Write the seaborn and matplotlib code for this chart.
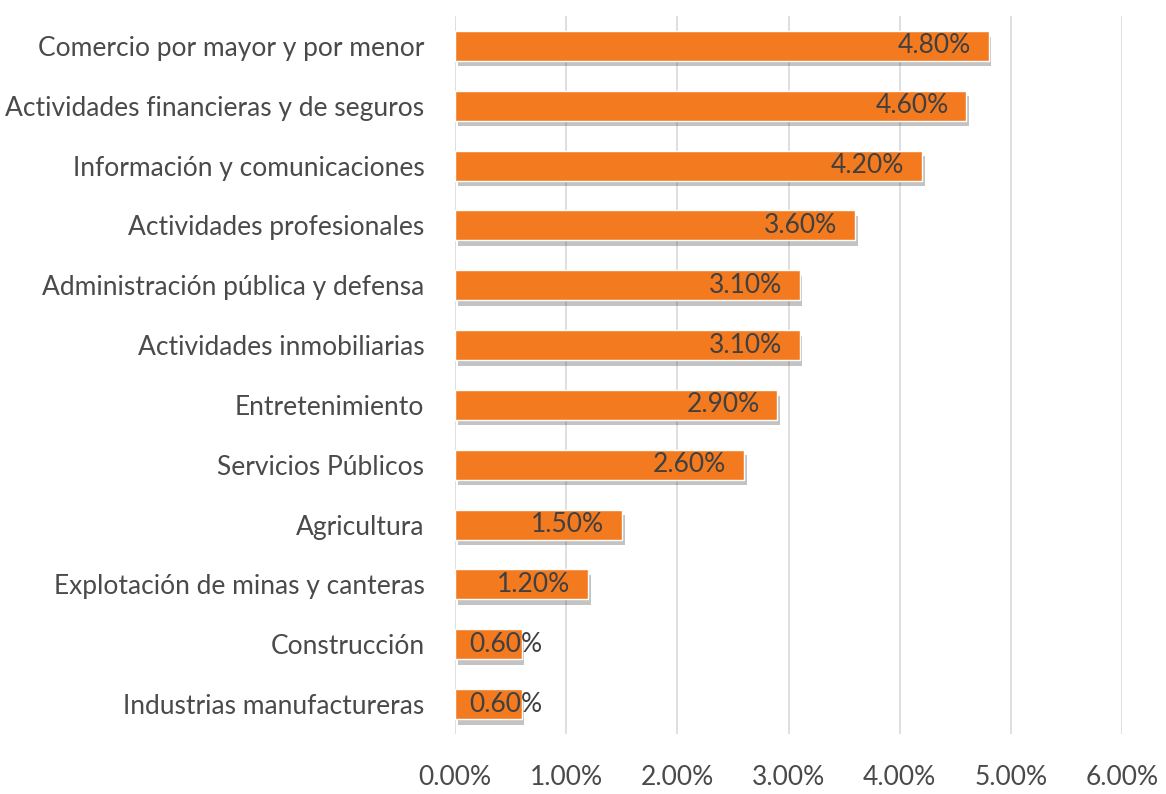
"""Horizontal bar chart of growth by economic sector."""

import numpy as np
import pandas as pd
import seaborn as sns
import matplotlib.pyplot as plt
import matplotlib.patheffects as pe
from matplotlib.ticker import FuncFormatter

###################################################################################################
###################################################################################################

sectors = ['Comercio por mayor y por menor', 'Actividades financieras y de seguros',
           'Información y comunicaciones', 'Actividades profesionales',
           'Administración pública y defensa', 'Actividades inmobiliarias',
           'Entretenimiento', 'Servicios Públicos', 'Agricultura',
           'Explotación de minas y canteras', 'Construcción', 'Industrias manufactureras']
growth = [4.8, 4.6, 4.2, 3.6, 3.1, 3.1, 2.9, 2.6, 1.5, 1.2, 0.6, 0.6]
x_ticks = [0, 1, 2, 3, 4, 5, 6]

df = pd.DataFrame({'sector': sectors, 'growth': growth})

sns.set_style('white')
plt.rcParams['font.family'] = ['Lato', 'DejaVu Sans']

fig = plt.figure(figsize=[11.66, 7.94], dpi=100)
ax = fig.add_axes([455/1166, 60/794, 667/1166, 718/794])

sns.barplot(data=df, x='growth', y='sector', orient='h', color='#F47A20', saturation=1,
            width=0.5, ax=ax, zorder=3)

# Soft shadow under each bar
for bar in ax.patches:
    bar.set_path_effects([pe.SimplePatchShadow(offset=(2, -4), shadow_rgbFace='#3a3a3a', alpha=0.3),
                          pe.Normal()])

# Value labels near the bar end
for ii, val in enumerate(growth):
    ax.text(max(val - 0.16, 0.79), ii, '%.2f%%' % val, ha='right', va='center',
            fontsize=19, color='#404040', zorder=4)

ax.set_xlim([0, 6])
ax.set_ylim([len(sectors) - 0.5, -0.5])
ax.set_xticks(x_ticks)
ax.xaxis.set_major_formatter(FuncFormatter(lambda v, p: '%.2f%%' % v))
ax.grid(axis='x', color='#d9d9d9', linewidth=1.2, zorder=0)
ax.grid(axis='y', visible=False)

ax.set_xlabel('')
ax.set_ylabel('')
ax.tick_params(axis='x', labelsize=19, labelcolor='#4a4a4a', pad=22, length=0)
ax.tick_params(axis='y', labelsize=19, labelcolor='#4a4a4a', pad=22, length=0)

for side in ['top', 'right', 'bottom', 'left']:
    ax.spines[side].set_visible(False)

plt.savefig('out.png', dpi=100)
